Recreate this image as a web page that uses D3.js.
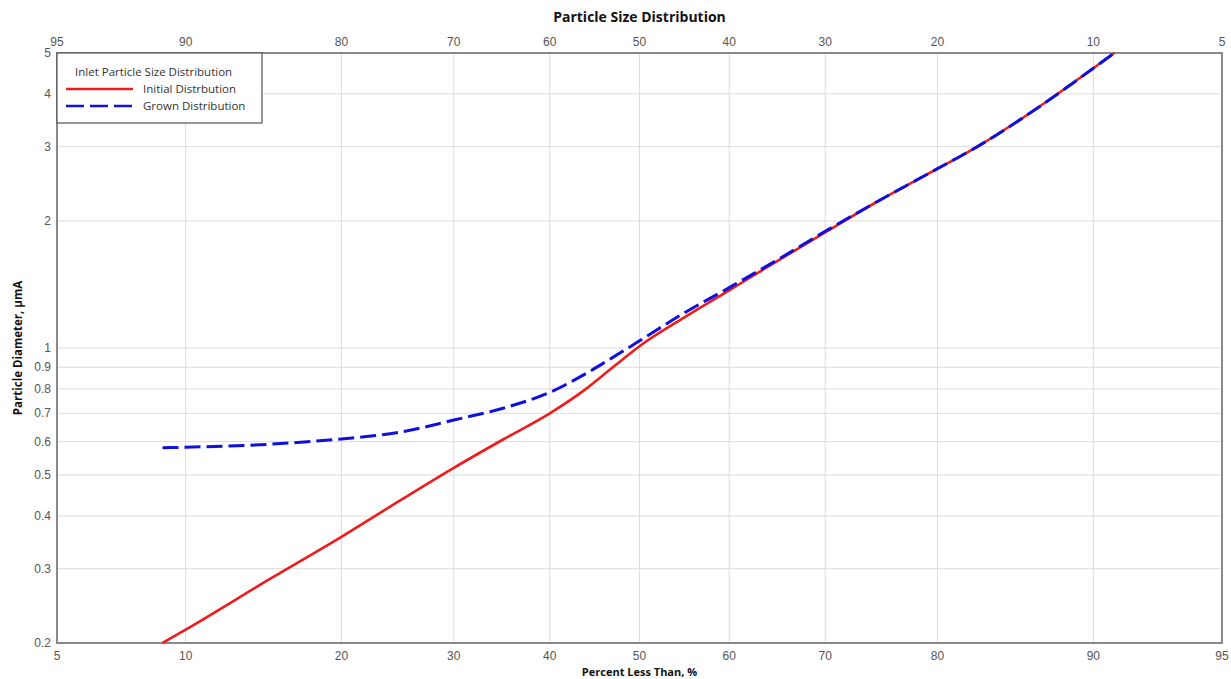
<!DOCTYPE html>
<html>
<head>
<meta charset="utf-8">
<script src="https://cdn.jsdelivr.net/npm/d3@7"></script>
<style>
  body { margin: 0; background: #fff; }
  svg { display: block; }
</style>
</head>
<body>
<script>
// percent less than / particle diameter (um)
var pctInitial = [8.9, 10, 15, 20, 25, 30, 35, 40, 44, 47, 50, 55, 60, 65, 70, 75, 80, 83, 86, 90, 91];
var diaInitial = [0.2, 0.215, 0.286, 0.357, 0.436, 0.52, 0.607, 0.70, 0.80, 0.90, 1.01, 1.18, 1.37, 1.6, 1.88, 2.23, 2.66, 3.0, 3.5, 4.6, 5.0];
var pctGrown = [8.9, 10, 15, 20, 25, 30, 35, 40, 44, 47, 50, 55, 60, 65, 70, 75, 80, 83, 86, 90, 91];
var diaGrown = [0.58, 0.582, 0.592, 0.609, 0.632, 0.675, 0.72, 0.785, 0.87, 0.95, 1.04, 1.21, 1.39, 1.61, 1.89, 2.23, 2.66, 3.0, 3.5, 4.6, 5.0];

var xTicks = [5, 10, 20, 30, 40, 50, 60, 70, 80, 90, 95];
var yTicks = [0.2, 0.3, 0.4, 0.5, 0.6, 0.7, 0.8, 0.9, 1, 2, 3, 4, 5];

var w = 1231, h = 679;
var margin = {top: 53, right: 9, bottom: 36, left: 57};

// inverse normal cdf (Acklam approximation) for the probability axis
function probit(p) {
    var a = [-3.969683028665376e+01, 2.209460984245205e+02, -2.759285104469687e+02, 1.383577518672690e+02, -3.066479806614716e+01, 2.506628277459239e+00];
    var b = [-5.447609879822406e+01, 1.615858368580409e+02, -1.556989798598866e+02, 6.680131188771972e+01, -1.328068155288572e+01];
    var c = [-7.784894002430293e-03, -3.223964580411365e-01, -2.400758277161838e+00, -2.549732539343734e+00, 4.374664141464968e+00, 2.938163982698783e+00];
    var d = [7.784695709041462e-03, 3.224671290700398e-01, 2.445134137142996e+00, 3.754408661907416e+00];
    var pl = 0.02425, q, r;
    if (p < pl) {
        q = Math.sqrt(-2 * Math.log(p));
        return (((((c[0]*q+c[1])*q+c[2])*q+c[3])*q+c[4])*q+c[5]) / ((((d[0]*q+d[1])*q+d[2])*q+d[3])*q+1);
    }
    if (p > 1 - pl) {
        q = Math.sqrt(-2 * Math.log(1 - p));
        return -(((((c[0]*q+c[1])*q+c[2])*q+c[3])*q+c[4])*q+c[5]) / ((((d[0]*q+d[1])*q+d[2])*q+d[3])*q+1);
    }
    q = p - 0.5; r = q * q;
    return (((((a[0]*r+a[1])*r+a[2])*r+a[3])*r+a[4])*r+a[5])*q / (((((b[0]*r+b[1])*r+b[2])*r+b[3])*r+b[4])*r+1);
}

var zScale = d3.scaleLinear()
    .domain([probit(0.05), probit(0.95)])
    .range([margin.left, w - margin.right]);
var x = function (p) { return zScale(probit(p / 100)); };

var y = d3.scaleLog()
    .domain([0.2, 5])
    .range([h - margin.bottom, margin.top]);

var svg = d3.select("body").append("svg")
    .attr("width", w)
    .attr("height", h);

// grid
svg.selectAll(".vgrid")
    .data(xTicks.slice(1, -1))
    .enter()
    .append("line")
    .attr("x1", function (d) { return x(d); })
    .attr("x2", function (d) { return x(d); })
    .attr("y1", margin.top)
    .attr("y2", h - margin.bottom)
    .attr("stroke", "#dcdcdc")
    .attr("stroke-width", 1);

svg.selectAll(".hgrid")
    .data(yTicks.slice(1, -1))
    .enter()
    .append("line")
    .attr("x1", margin.left)
    .attr("x2", w - margin.right)
    .attr("y1", function (d) { return y(d); })
    .attr("y2", function (d) { return y(d); })
    .attr("stroke", "#dcdcdc")
    .attr("stroke-width", 1);

// frame
svg.append("rect")
    .attr("x", margin.left)
    .attr("y", margin.top)
    .attr("width", w - margin.left - margin.right)
    .attr("height", h - margin.top - margin.bottom)
    .attr("fill", "none")
    .attr("stroke", "#8a8a8a")
    .attr("stroke-width", 2);

// tick labels
var tickFont = "'Liberation Sans', Arial, sans-serif";
svg.selectAll(".xb")
    .data(xTicks)
    .enter()
    .append("text")
    .attr("x", function (d) { return x(d); })
    .attr("y", h - margin.bottom + 17)
    .attr("text-anchor", "middle")
    .attr("font-family", tickFont)
    .attr("font-size", "12px")
    .attr("fill", "#555")
    .text(function (d) { return d; });

svg.selectAll(".xt")
    .data(xTicks)
    .enter()
    .append("text")
    .attr("x", function (d) { return x(d); })
    .attr("y", margin.top - 7)
    .attr("text-anchor", "middle")
    .attr("font-family", tickFont)
    .attr("font-size", "12px")
    .attr("fill", "#555")
    .text(function (d) { return 100 - d; });

svg.selectAll(".yl")
    .data(yTicks)
    .enter()
    .append("text")
    .attr("x", margin.left - 6)
    .attr("y", function (d) { return y(d) + 4; })
    .attr("text-anchor", "end")
    .attr("font-family", tickFont)
    .attr("font-size", "12px")
    .attr("fill", "#555")
    .text(function (d) { return d; });

// titles
var titleFont = "'Open Sans', 'Noto Sans', sans-serif";
svg.append("text")
    .attr("x", (margin.left + w - margin.right) / 2)
    .attr("y", 22)
    .attr("text-anchor", "middle")
    .attr("font-family", titleFont)
    .attr("font-weight", "bold")
    .attr("font-size", "14px")
    .attr("fill", "#111")
    .text("Particle Size Distribution");

svg.append("text")
    .attr("x", (margin.left + w - margin.right) / 2)
    .attr("y", 676)
    .attr("text-anchor", "middle")
    .attr("font-family", titleFont)
    .attr("font-weight", "bold")
    .attr("font-size", "11px")
    .attr("fill", "#111")
    .text("Percent Less Than, %");

svg.append("text")
    .attr("transform", "translate(22," + ((margin.top + h - margin.bottom) / 2) + ") rotate(-90)")
    .attr("text-anchor", "middle")
    .attr("font-family", titleFont)
    .attr("font-weight", "bold")
    .attr("font-size", "11.5px")
    .attr("fill", "#111")
    .text("Particle Diameter, µmA");

// lines
var line = d3.line()
    .x(function (d) { return x(d[0]); })
    .y(function (d) { return y(d[1]); })
    .curve(d3.curveMonotoneX);

var initial = pctInitial.map(function (p, i) { return [p, diaInitial[i]]; });
var grown = pctGrown.map(function (p, i) { return [p, diaGrown[i]]; });

svg.append("path")
    .datum(initial)
    .attr("d", line)
    .attr("fill", "none")
    .attr("stroke", "#ee1c1c")
    .attr("stroke-width", 2.6);

svg.append("path")
    .datum(grown)
    .attr("d", line)
    .attr("fill", "none")
    .attr("stroke", "#1010dd")
    .attr("stroke-width", 3)
    .attr("stroke-dasharray", "16,6");

// legend
var lg = svg.append("g");
lg.append("rect")
    .attr("x", margin.left)
    .attr("y", margin.top)
    .attr("width", 205)
    .attr("height", 70)
    .attr("fill", "#fff")
    .attr("stroke", "#555")
    .attr("stroke-width", 1.2);
lg.append("text")
    .attr("x", 75)
    .attr("y", 76)
    .attr("font-family", titleFont)
    .attr("font-size", "11.5px")
    .attr("fill", "#333")
    .text("Inlet Particle Size Distribution");
lg.append("line")
    .attr("x1", 66).attr("x2", 133)
    .attr("y1", 89).attr("y2", 89)
    .attr("stroke", "#ee1c1c")
    .attr("stroke-width", 2.6);
lg.append("text")
    .attr("x", 143)
    .attr("y", 93)
    .attr("font-family", titleFont)
    .attr("font-size", "11.5px")
    .attr("fill", "#333")
    .text("Initial Distrbution");
lg.append("line")
    .attr("x1", 66).attr("x2", 133)
    .attr("y1", 106).attr("y2", 106)
    .attr("stroke", "#1010dd")
    .attr("stroke-width", 2.6)
    .attr("stroke-dasharray", "18,6");
lg.append("text")
    .attr("x", 143)
    .attr("y", 110)
    .attr("font-family", titleFont)
    .attr("font-size", "11.5px")
    .attr("fill", "#333")
    .text("Grown Distribution");
</script>
</body>
</html>
